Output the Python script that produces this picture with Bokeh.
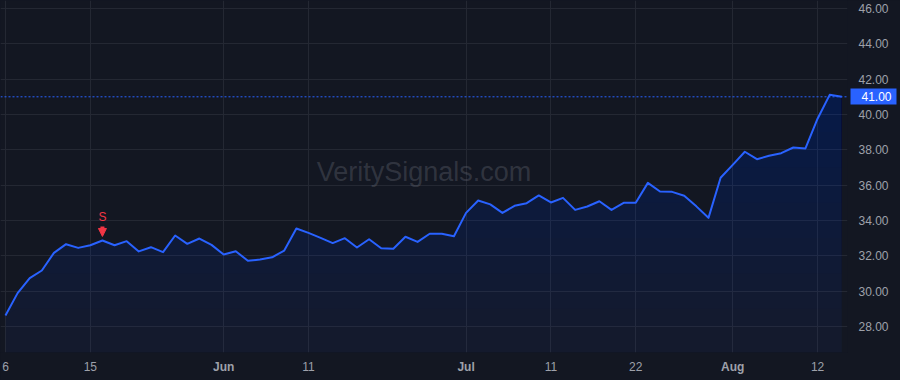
import numpy as np
from bokeh.plotting import figure
from bokeh.models import Range1d, FixedTicker, Label, Arrow, NormalHead, Span, LinearAxis
from bokeh.embed import file_html
from bokeh.resources import INLINE
from bokeh.core.properties import value

# ---- data (daily closes, one per trading session, from May 6 on) ----
closes = [28.62, 29.89, 30.74, 31.17, 32.17, 32.66, 32.45, 32.60, 32.87, 32.60,
          32.83, 32.25, 32.49, 32.21, 33.15, 32.68, 32.98, 32.62, 32.08, 32.26,
          31.72, 31.79, 31.92, 32.30, 33.55, 33.30, 33.02, 32.72, 33.00, 32.47,
          32.94, 32.43, 32.40, 33.08, 32.79, 33.25, 33.25, 33.11, 34.43, 35.13,
          34.91, 34.43, 34.83, 34.98, 35.42, 35.02, 35.28, 34.60, 34.79, 35.09,
          34.60, 35.00, 35.00, 36.13, 35.64, 35.62, 35.40, 34.80, 34.15, 36.42,
          37.15, 37.89, 37.47, 37.66, 37.81, 38.13, 38.08, 39.76, 41.11, 41.00]
day_ticks = [0, 7, 25, 45, 52, 67]
day_labels = ["6", "15", "11", "11", "22", "12"]
month_ticks = [18, 38, 60]
month_labels = ["Jun", "Jul", "Aug"]
price_ticks = [28, 30, 32, 34, 36, 38, 40, 42, 44, 46]
signal_idx = 8
signal_text = "S"
watermark = "VeritySignals.com"

# ---- style ----
BG = "#131722"
GRID = "#242833"
LINE = "#2962ff"
RED = "#f23645"
TXT = "#9ea1aa"
FONT = "Liberation Sans"
LABEL_H = 14   # height of a 12px tick label row
LABEL_W = 30   # width of a "00.00" price label

x = np.arange(len(closes))
c = np.array(closes)
last_price = closes[-1]

X0, X1 = -0.41, 69.47
Y0, Y1 = 26.53, 46.45
FRAME_H = 352

p = figure(width=900, height=380, x_range=Range1d(X0, X1), y_range=Range1d(Y0, Y1),
           output_backend="svg", toolbar_location=None, y_axis_location="right",
           min_border_left=0, min_border_top=0, min_border_right=53, min_border_bottom=28)
p.background_fill_color = BG
p.border_fill_color = BG
p.outline_line_color = None
p.styles = {"background-color": BG}

# grids
p.xgrid.ticker = FixedTicker(ticks=sorted(day_ticks + month_ticks))
p.ygrid.ticker = FixedTicker(ticks=price_ticks)
p.xgrid.grid_line_color = GRID
p.ygrid.grid_line_color = GRID


def style_axis(ax, standoff):
    ax.axis_line_color = None
    ax.major_tick_line_color = None
    ax.minor_tick_line_color = None
    ax.major_tick_in = 0
    ax.major_tick_out = 0
    ax.minor_tick_in = 0
    ax.minor_tick_out = 0
    ax.major_label_standoff = standoff
    ax.major_label_text_color = TXT
    ax.major_label_text_font = FONT
    ax.major_label_text_font_size = "12px"


# x axis: day numbers
xa = p.xaxis[0]
xa.ticker = FixedTicker(ticks=day_ticks)
xa.major_label_overrides = {t: l for t, l in zip(day_ticks, day_labels)}
style_axis(xa, 9)

# x axis: month names (bold); stacked below, pulled back up onto the same row
ma = LinearAxis(ticker=FixedTicker(ticks=month_ticks),
                major_label_overrides={t: l for t, l in zip(month_ticks, month_labels)})
style_axis(ma, -LABEL_H)
ma.major_label_text_font_style = "bold"
p.add_layout(ma, "below")

# y axis
ya = p.yaxis[0]
ya.ticker = FixedTicker(ticks=price_ticks)
ya.major_label_overrides = {t: f"{t:.2f}" for t in price_ticks}
style_axis(ya, 11)

# last price tag on the price scale: a thick tick is the box, white label on it
ta = LinearAxis(ticker=FixedTicker(ticks=[last_price]),
                major_label_overrides={last_price: f"{last_price:.2f}"})
style_axis(ta, -35)
ta.major_tick_line_color = LINE
ta.major_tick_line_width = 16
ta.major_tick_in = 11 + LABEL_W
ta.major_tick_out = 5
ta.major_label_text_color = "white"
p.add_layout(ta, "right")

# watermark
p.add_layout(Label(x=(X0 + X1) / 2, y=(Y0 + Y1) / 2 + 0.25, text=watermark,
                   text_align="center", text_baseline="middle",
                   text_color="#787b86", text_alpha=0.3,
                   text_font=FONT, text_font_size="27px"))

# gradient-like area fill
p.varea(x=x, y1=np.full(len(c), Y0), y2=c, fill_color=LINE, fill_alpha=0.05)
for lvl in np.arange(28, 42, 1.0):
    p.varea(x=x, y1=np.minimum(c, lvl), y2=c, fill_color=LINE, fill_alpha=0.013)

p.line(x, c, line_color=LINE, line_width=2, line_join="round")

# last price line
p.add_layout(Span(location=last_price, dimension="width", line_color=LINE,
                  line_dash="2 2", line_width=1))

# signal marker
px_per_unit = FRAME_H / (Y1 - Y0)
sv = closes[signal_idx]
p.add_layout(Arrow(x_start=signal_idx, y_start=sv + 14 / px_per_unit,
                   x_end=signal_idx, y_end=sv + 4 / px_per_unit,
                   line_color=RED, line_width=4,
                   end=NormalHead(size=8, fill_color=RED, line_color=RED, line_width=1)))
p.text(x=[signal_idx], y=[sv + 23 / px_per_unit], text=[signal_text], text_color=RED,
       text_font=value(FONT), text_font_size="12px", text_align="center",
       text_baseline="middle")

html = file_html(p, INLINE)
html = html.replace("<head>", "<head><style>html,body{margin:0;background:%s;}</style>" % BG, 1)
open("out.html", "w").write(html)
